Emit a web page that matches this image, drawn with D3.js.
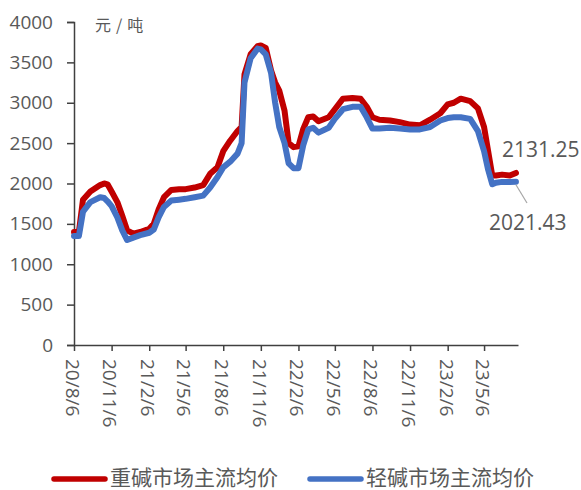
<!DOCTYPE html>
<html>
<head>
<meta charset="utf-8">
<script src="https://cdn.jsdelivr.net/npm/d3@7"></script>
<style>
  body { margin: 0; background: #fff; }
  text { font-family: "Open Sans", "Liberation Sans", Arial, sans-serif; fill: #595959; }
  .cjk { font-family: "Noto Sans CJK SC", sans-serif; }
</style>
</head>
<body>
<div id="chart"></div>
<script>
// sample dates (weekly-ish reading of the picture)
const dates = [
  "2020-08-06", "2020-08-18", "2020-08-28", "2020-09-15", "2020-10-09", "2020-10-19",
  "2020-10-27", "2020-11-06", "2020-11-20", "2020-12-02", "2020-12-14", "2020-12-29",
  "2021-01-15", "2021-02-06", "2021-02-17", "2021-03-01", "2021-03-14", "2021-04-01",
  "2021-04-20", "2021-05-06", "2021-05-28", "2021-06-18", "2021-07-05", "2021-07-23",
  "2021-08-06", "2021-08-23", "2021-09-10", "2021-09-20", "2021-09-27", "2021-10-12",
  "2021-10-29", "2021-11-06", "2021-11-18", "2021-12-01", "2021-12-11", "2021-12-21",
  "2022-01-03", "2022-01-13", "2022-01-25", "2022-02-06", "2022-02-18", "2022-03-02",
  "2022-03-14", "2022-03-27", "2022-04-21", "2022-05-06", "2022-05-26", "2022-06-18",
  "2022-07-08", "2022-07-23", "2022-08-06", "2022-08-23", "2022-09-18", "2022-10-12",
  "2022-11-06", "2022-11-30", "2022-12-25", "2023-01-19", "2023-02-06", "2023-02-21",
  "2023-03-10", "2023-04-02", "2023-04-21", "2023-05-06", "2023-05-16", "2023-05-26",
  "2023-06-04", "2023-06-19", "2023-07-08", "2023-07-23"
];

// 重碱市场主流均价
const heavy = [
  1400, 1400, 1800, 1900, 1980, 2000,
  1990, 1900, 1770, 1600, 1420, 1380,
  1400, 1440, 1500, 1680, 1830, 1920,
  1930, 1930, 1950, 1980, 2120, 2200,
  2400, 2530, 2650, 2700, 3350, 3600,
  3700, 3710, 3680, 3400, 3250, 3150,
  2900, 2500, 2450, 2460, 2680, 2820,
  2830, 2770, 2820, 2920, 3050, 3060,
  3050, 2950, 2820, 2790, 2780, 2760,
  2730, 2720, 2790, 2870, 2980, 3000,
  3050, 3020, 2930, 2700, 2400, 2100,
  2100, 2110, 2100, 2131.25
];

// 轻碱市场主流均价
const light = [
  1350, 1350, 1650, 1770, 1830, 1820,
  1780, 1720, 1580, 1420, 1300, 1330,
  1360, 1390, 1430, 1580, 1710, 1790,
  1800, 1810, 1830, 1850, 1950, 2080,
  2200, 2270, 2370, 2500, 3250, 3550,
  3670, 3660, 3600, 3370, 3000, 2700,
  2500, 2250, 2190, 2190, 2480, 2670,
  2690, 2630, 2690, 2800, 2920, 2950,
  2950, 2820, 2680, 2680, 2690, 2680,
  2670, 2670, 2700, 2780, 2810, 2820,
  2820, 2800, 2650, 2400, 2170, 1990,
  2010, 2020, 2020, 2021.43
];

const xTickLabels = ["20/8/6", "20/11/6", "21/2/6", "21/5/6", "21/8/6", "21/11/6",
  "22/2/6", "22/5/6", "22/8/6", "22/11/6", "23/2/6", "23/5/6"];
const yTicks = [0, 500, 1000, 1500, 2000, 2500, 3000, 3500, 4000];

const seriesNames = ["重碱市场主流均价", "轻碱市场主流均价"];
const seriesColors = ["#C00000", "#4472C4"];

const width = 581, height = 490;
const svg = d3.select("#chart").append("svg")
  .attr("width", width)
  .attr("height", height);

const parseDate = d3.timeParse("%Y-%m-%d");
const parseTick = d3.timeParse("%y/%m/%d");

const x = d3.scaleTime()
  .domain([parseDate("2020-08-06"), parseDate("2023-07-28")])
  .range([74, 518]);

const y = d3.scaleLinear()
  .domain([0, 4000])
  .range([345, 22]);

// y axis
const yAxis = svg.append("g")
  .attr("transform", "translate(74,0)")
  .call(d3.axisLeft(y).tickValues(yTicks).tickSize(7).tickPadding(14).tickFormat(d3.format("d")));
yAxis.select(".domain").attr("stroke", "#404040").attr("stroke-width", 1.5);
yAxis.selectAll(".tick line").attr("stroke", "#404040").attr("stroke-width", 1.5);
yAxis.selectAll(".tick text")
  .style("font-size", "19px")
  .attr("fill", "#595959");

// x axis
const xTicks = xTickLabels.map(parseTick);
const xAxis = svg.append("g")
  .attr("transform", "translate(0,345)")
  .call(d3.axisBottom(x).tickValues(xTicks).tickSize(6).tickSizeOuter(0).tickFormat((d, i) => xTickLabels[i]));
xAxis.select(".domain").attr("stroke", "#404040").attr("stroke-width", 1.5);
xAxis.selectAll(".tick line").attr("stroke", "#404040").attr("stroke-width", 1.5);
xAxis.selectAll(".tick text")
  .style("font-size", "19px")
  .attr("fill", "#595959")
  .attr("text-anchor", "start")
  .attr("dy", "0.35em")
  .attr("y", 0)
  .attr("transform", "translate(-2,14) rotate(90)");

// unit
svg.append("text")
  .attr("class", "cjk")
  .attr("x", 95)
  .attr("y", 31)
  .style("font-size", "16px")
  .style("letter-spacing", "5px")
  .text("元/吨");

// lines
const line = d3.line()
  .x((d, i) => x(parseDate(dates[i])))
  .y(d => y(d));

[heavy, light].forEach((vals, k) => {
  svg.append("path")
    .datum(vals)
    .attr("fill", "none")
    .attr("stroke", seriesColors[k])
    .attr("stroke-width", 6)
    .attr("stroke-linejoin", "round")
    .attr("stroke-linecap", "round")
    .attr("d", line);
});

// end labels
const lastDate = parseDate(dates[dates.length - 1]);
svg.append("text")
  .attr("x", 502)
  .attr("y", 157)
  .style("font-size", "21px")
  .text(d3.format(".2f")(heavy[heavy.length - 1]));

svg.append("line")
  .attr("x1", x(lastDate))
  .attr("y1", y(light[light.length - 1]) + 3)
  .attr("x2", 527)
  .attr("y2", 203)
  .attr("stroke", "#A6A6A6")
  .attr("stroke-width", 1.2);

svg.append("text")
  .attr("x", 489)
  .attr("y", 230)
  .style("font-size", "21px")
  .text(d3.format(".2f")(light[light.length - 1]));

// legend
const legendX = [52, 308];
seriesNames.forEach((name, k) => {
  const g = svg.append("g").attr("transform", `translate(${legendX[k]},479)`);
  g.append("line")
    .attr("x1", 2).attr("x2", 53)
    .attr("y1", 0).attr("y2", 0)
    .attr("stroke", seriesColors[k])
    .attr("stroke-width", 5.5)
    .attr("stroke-linecap", "round");
  g.append("text")
    .attr("class", "cjk")
    .attr("x", 58)
    .attr("y", 6)
    .style("font-size", "21px")
    .text(name);
});
</script>
</body>
</html>
